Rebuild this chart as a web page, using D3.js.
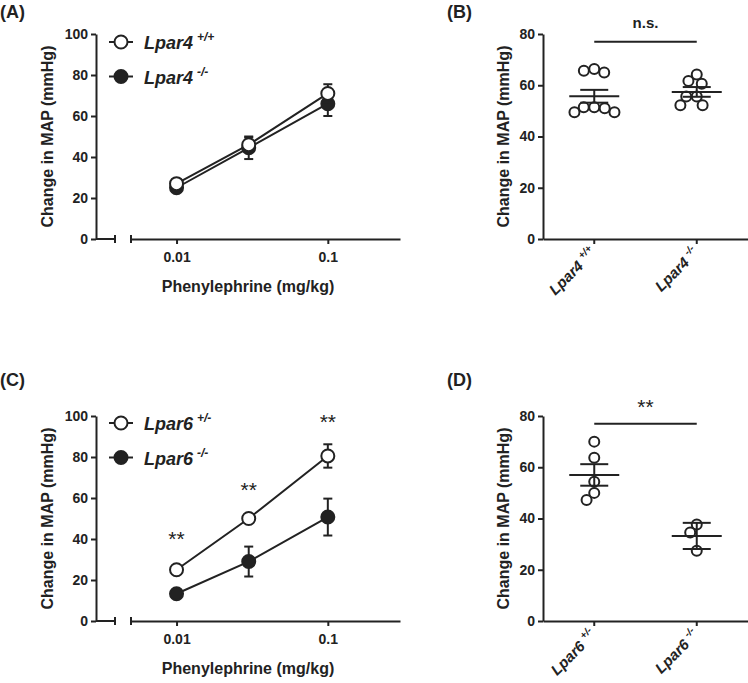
<!DOCTYPE html>
<html>
<head>
<meta charset="utf-8">
<script src="https://cdn.jsdelivr.net/npm/d3@7"></script>
<style>
  body { margin: 0; background: #fff; }
  text { font-family: "Liberation Sans", Arial, Helvetica, sans-serif; fill: #222; }
</style>
</head>
<body>
<div id="fig"></div>
<script>
// Dose-response data (mean, SEM)
const doses = [0.01, 0.03, 0.1];
const doseTicks = [0.01, 0.1];
const doseTicksY = [0, 20, 40, 60, 80, 100];

const lpar4WtMean = [27, 46, 71];
const lpar4WtSem = [1.5, 3.5, 4.5];
const lpar4KoMean = [25, 44.5, 66];
const lpar4KoSem = [1.5, 5.5, 6];

const lpar6HetMean = [25, 50, 80.5];
const lpar6HetSem = [2, 2, 5.7];
const lpar6KoMean = [13.3, 29, 50.7];
const lpar6KoSem = [1.5, 7.3, 9];

// asterisks over each dose in (C), height in mmHg
const sigC = ["**", "**", "**"];
const sigCAt = [42, 66, 99];

// Scatter panels
const scatterTicksY = [0, 20, 40, 60, 80];

const groupsB = ["Lpar4 +/+", "Lpar4 -/-"];
const lpar4WtPts = [65.7, 65.0, 66.3, 51.4, 49.5, 49.5, 51.4, 51.0];
const lpar4KoPts = [61.7, 60.6, 64.2, 55.6, 52.2, 52.2, 55.6];
const meanB = [55.7, 57.4];
const semB = [2.5, 1.9];

const groupsD = ["Lpar6 +/-", "Lpar6 -/-"];
const lpar6HetPts = [70, 63.7, 54.3, 47.2, 50];
const lpar6KoPts = [37.7, 34.5, 27.4];
const meanD = [57, 33.2];
const semD = [4.2, 5.1];

const INK = "#222";
const FONT = '"Liberation Sans", Arial, Helvetica, sans-serif';

const svg = d3.select("#fig").append("svg")
  .attr("width", 748)
  .attr("height", 683)
  .attr("font-weight", "bold");
svg.append("rect").attr("width", 748).attr("height", 683).attr("fill", "#fff");

function styleAxis(g) {
  g.attr("font-size", 14).attr("font-family", FONT).attr("font-weight", "bold");
  g.select(".domain").attr("stroke", INK).attr("stroke-width", 2);
  g.selectAll(".tick line").attr("stroke", INK).attr("stroke-width", 2);
  g.selectAll(".tick text").attr("fill", INK);
}

function panelLabel(txt, x, y) {
  svg.append("text").attr("x", x).attr("y", y).attr("font-size", 18).text(txt);
}

function yTitle(x, yc) {
  svg.append("text")
    .attr("transform", `translate(${x},${yc}) rotate(-90)`)
    .attr("text-anchor", "middle")
    .attr("font-size", 16)
    .text("Change in MAP (mmHg)");
}

// genotype label: italic gene name + superscript
function geno(sel, name, sup, supSize, supDy) {
  sel.append("tspan").attr("font-style", "italic").text(name);
  sel.append("tspan").attr("font-style", "italic").attr("font-size", supSize)
    .attr("dx", 4).attr("dy", supDy).text(sup);
}

/* dose-response panel (A, C) */
function dosePanel(o) {
  const y = d3.scaleLinear().domain([0, 100]).range([o.y0, o.y0 - 205]);
  const x = d3.scaleLog().domain([0.005, 0.3]).range([131, 400]);

  svg.append("g")
    .attr("transform", "translate(96,0)")
    .call(d3.axisLeft(y).tickValues(doseTicksY).tickSize(5).tickSizeOuter(0).tickPadding(3))
    .call(styleAxis);

  svg.append("g")
    .attr("transform", `translate(0,${o.y0})`)
    .call(d3.axisBottom(x).tickValues(doseTicks).tickFormat(d => d)
      .tickSize(5).tickSizeOuter(0).tickPadding(8))
    .call(styleAxis);

  // broken x axis: short zero segment + end bars
  const brk = svg.append("g").attr("stroke", INK).attr("stroke-width", 2);
  brk.append("line").attr("x1", 96).attr("x2", 115).attr("y1", o.y0).attr("y2", o.y0);
  brk.append("line").attr("x1", 115).attr("x2", 115).attr("y1", o.y0 - 4).attr("y2", o.y0 + 4);
  brk.append("line").attr("x1", x.range()[0]).attr("x2", x.range()[0])
    .attr("y1", o.y0 - 4).attr("y2", o.y0 + 4);

  svg.append("text")
    .attr("x", 248).attr("y", o.y0 + 53)
    .attr("text-anchor", "middle").attr("font-size", 16)
    .text("Phenylephrine (mg/kg)");
  yTitle(53, o.y0 - 102.5);

  const line = d3.line().x((d, i) => x(doses[i])).y(d => y(d));

  o.series.forEach(s => {
    const g = svg.append("g");
    g.append("path").datum(s.mean).attr("d", line)
      .attr("fill", "none").attr("stroke", INK).attr("stroke-width", 2);
    s.mean.forEach((m, i) => {
      const cx = x(doses[i]);
      g.append("line").attr("x1", cx).attr("x2", cx)
        .attr("y1", y(m - s.sem[i])).attr("y2", y(m + s.sem[i]))
        .attr("stroke", INK).attr("stroke-width", 2);
      [m - s.sem[i], m + s.sem[i]].forEach(v => {
        g.append("line").attr("x1", cx - 4.5).attr("x2", cx + 4.5)
          .attr("y1", y(v)).attr("y2", y(v))
          .attr("stroke", INK).attr("stroke-width", 2);
      });
    });
    g.selectAll("circle").data(s.mean).enter().append("circle")
      .attr("cx", (d, i) => x(doses[i]))
      .attr("cy", d => y(d))
      .attr("r", 6.5)
      .attr("fill", s.open ? "#fff" : INK)
      .attr("stroke", INK).attr("stroke-width", 2);
  });

  // legend
  o.legend.forEach((s, k) => {
    const ly = o.legendY + k * 34.5;
    svg.append("line").attr("x1", 109).attr("x2", 133).attr("y1", ly).attr("y2", ly)
      .attr("stroke", INK).attr("stroke-width", 2);
    svg.append("circle").attr("cx", 121).attr("cy", ly).attr("r", 6.5)
      .attr("fill", s.open ? "#fff" : INK).attr("stroke", INK).attr("stroke-width", 2);
    const t = svg.append("text").attr("x", 144).attr("y", ly + 7).attr("font-size", 18);
    geno(t, s.name, s.sup, 12, -8);
  });

  if (o.sig) {
    o.sig.forEach((txt, i) => {
      svg.append("text")
        .attr("x", x(doses[i])).attr("y", y(o.sigAt[i]) + 11)
        .attr("text-anchor", "middle").attr("font-size", 21).attr("font-weight", "normal")
        .text(txt);
    });
  }
}

/* simple beeswarm so circles spread sideways like the original */
function swarm(vals, y, d) {
  const placed = [];
  const off = new Array(vals.length);
  const order = d3.range(vals.length).sort((a, b) => vals[b] - vals[a]);
  order.forEach(i => {
    const py = y(vals[i]);
    const cands = [0];
    placed.forEach(p => {
      const dy = Math.abs(p.y - py);
      if (dy < d) {
        const dx = Math.sqrt(d * d - dy * dy);
        cands.push(p.x - dx, p.x + dx);
      }
    });
    cands.sort((a, b) => Math.abs(a) - Math.abs(b));
    const ok = cands.find(c => placed.every(p => (p.x - c) ** 2 + (p.y - py) ** 2 >= d * d - 0.01));
    off[i] = ok;
    placed.push({x: ok, y: py});
  });
  return off;
}

/* scatter panel (B, D) */
function scatterPanel(o) {
  const y = d3.scaleLinear().domain([0, 80]).range([o.y0, o.y0 - 205]);
  const x = d3.scaleBand().domain(o.groups).range([543, 748]);
  const cx = g => x(g) + x.bandwidth() / 2;

  svg.append("g")
    .attr("transform", "translate(543,0)")
    .call(d3.axisLeft(y).tickValues(scatterTicksY).tickSize(5).tickSizeOuter(0).tickPadding(3))
    .call(styleAxis);

  svg.append("g")
    .attr("transform", `translate(0,${o.y0})`)
    .call(d3.axisBottom(x).tickSize(5).tickSizeOuter(0).tickFormat(""))
    .call(styleAxis);

  o.groups.forEach((gname, k) => {
    const parts = gname.split(" ");
    const t = svg.append("text")
      .attr("transform", `translate(${cx(gname) + 3},${o.y0 + 15}) rotate(-45)`)
      .attr("text-anchor", "end")
      .attr("font-size", 15);
    geno(t, parts[0], parts[1], 10, -7);
  });

  yTitle(509, o.y0 - 102.5);

  o.points.forEach((pts, k) => {
    const c = cx(o.groups[k]);
    const off = swarm(pts, y, 10.5);
    svg.append("g").selectAll("circle").data(pts).enter().append("circle")
      .attr("cx", (d, i) => c + off[i])
      .attr("cy", d => y(d))
      .attr("r", 5)
      .attr("fill", "#fff")
      .attr("stroke", INK).attr("stroke-width", 2);

    const m = o.mean[k], e = o.sem[k];
    const g = svg.append("g").attr("stroke", INK).attr("stroke-width", 2);
    g.append("line").attr("x1", c - 25).attr("x2", c + 25).attr("y1", y(m)).attr("y2", y(m));
    g.append("line").attr("x1", c).attr("x2", c).attr("y1", y(m - e)).attr("y2", y(m + e));
    [m - e, m + e].forEach(v => {
      g.append("line").attr("x1", c - 14).attr("x2", c + 14).attr("y1", y(v)).attr("y2", y(v));
    });
  });

  // significance bracket
  const x0 = cx(o.groups[0]), x1 = cx(o.groups[1]);
  svg.append("line").attr("x1", x0).attr("x2", x1)
    .attr("y1", y(o.bracketAt)).attr("y2", y(o.bracketAt))
    .attr("stroke", INK).attr("stroke-width", 2);
  svg.append("text")
    .attr("x", (x0 + x1) / 2).attr("y", y(o.bracketAt) + o.sigDy)
    .attr("text-anchor", "middle")
    .attr("font-size", o.sigSize)
    .attr("font-weight", o.sigWeight)
    .text(o.sig);
}

panelLabel("(A)", 0, 18);
panelLabel("(B)", 447, 18);
panelLabel("(C)", 0, 386);
panelLabel("(D)", 447, 386);

dosePanel({
  y0: 239,
  series: [
    {mean: lpar4KoMean, sem: lpar4KoSem, open: false},
    {mean: lpar4WtMean, sem: lpar4WtSem, open: true}
  ],
  legend: [
    {name: "Lpar4", sup: "+/+", open: true},
    {name: "Lpar4", sup: "-/-", open: false}
  ],
  legendY: 42
});

dosePanel({
  y0: 621,
  series: [
    {mean: lpar6KoMean, sem: lpar6KoSem, open: false},
    {mean: lpar6HetMean, sem: lpar6HetSem, open: true}
  ],
  legend: [
    {name: "Lpar6", sup: "+/-", open: true},
    {name: "Lpar6", sup: "-/-", open: false}
  ],
  legendY: 423,
  sig: sigC,
  sigAt: sigCAt
});

scatterPanel({
  y0: 239,
  groups: groupsB,
  points: [lpar4WtPts, lpar4KoPts],
  mean: meanB,
  sem: semB,
  bracketAt: 77,
  sig: "n.s.",
  sigDy: -14,
  sigSize: 15,
  sigWeight: "bold"
});

scatterPanel({
  y0: 621,
  groups: groupsD,
  points: [lpar6HetPts, lpar6KoPts],
  mean: meanD,
  sem: semD,
  bracketAt: 77,
  sig: "**",
  sigDy: -10,
  sigSize: 21,
  sigWeight: "normal"
});
</script>
</body>
</html>
